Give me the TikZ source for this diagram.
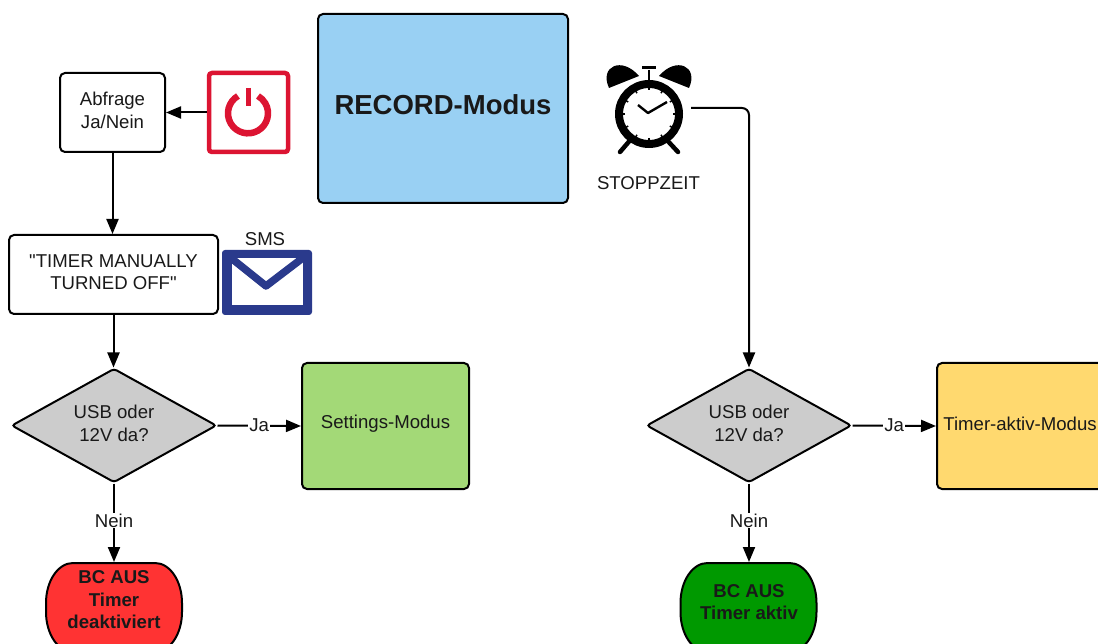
\documentclass[tikz,border=0pt]{standalone}
\usepackage{fontspec}
\setmainfont{Liberation Sans}
\newfontfamily\plainfont{Liberation Sans}
\usetikzlibrary{arrows.meta,shapes.geometric}
\definecolor{recblue}{RGB}{153,208,243}
\definecolor{setgreen}{RGB}{163,217,119}
\definecolor{timyellow}{RGB}{255,217,111}
\definecolor{stopred}{RGB}{255,51,51}
\definecolor{aktgreen}{RGB}{0,153,0}
\definecolor{diagray}{RGB}{204,204,204}
\definecolor{powred}{RGB}{220,20,50}
\definecolor{envblue}{RGB}{42,58,140}
\newcommand\lift[2][2pt]{\raisebox{#1}[\height][\depth]{#2}}
\newcommand\termshape[2]{%
  \draw[draw=black,line width=2pt,fill=#2] (#1-68,603)
    arc[start angle=180,end angle=90,x radius=27pt,y radius=40pt] -- (#1+41,563)
    arc[start angle=90,end angle=0,x radius=27pt,y radius=40pt] -- (#1+68,612)
    arc[start angle=0,end angle=-90,x radius=27pt,y radius=40pt] -- (#1-41,652)
    arc[start angle=270,end angle=180,x radius=27pt,y radius=40pt] -- cycle;}
\tikzset{
  x=1pt,y=-1pt,
  every node/.style={font=\fontsize{18.6}{22.5}\selectfont,align=center,text=black!90,inner sep=0pt},
  boxstyle/.style={draw=black,line width=2pt,rounded corners=5pt,fill=#1},
  boxstyle/.default=white,
  decision/.style={diamond,draw=black,line width=2pt,fill=diagray,aspect=1.8,rounded corners=3pt,minimum width=205pt,minimum height=114pt},
  terminal/.style={minimum width=136pt,minimum height=89pt,outer sep=1pt},
  conn/.style={draw=black,line width=2pt,-{Triangle[length=15pt,width=12pt]}},
  edgelabel/.style={fill=white,inner sep=1pt},
  boldtext/.style={font=\fontsize{18.6}{22.5}\selectfont\bfseries}
}
\begin{document}
\begin{tikzpicture}
\clip (0,0) rectangle (1098,644);
\fill[white] (0,0) rectangle (1098,644);

% boxes
\node[boxstyle=recblue,minimum width=250pt,minimum height=189pt,font=\fontsize{27.5}{30}\selectfont\bfseries] (rec) at (443,108.5) {\lift[4pt]{RECORD-Modus}};
\node[boxstyle,minimum width=105pt,minimum height=79pt] (abf) at (112.5,112.5) {\lift{Abfrage}\\\lift{Ja/Nein}};
\node[boxstyle,minimum width=209pt,minimum height=79pt,font=\fontsize{18.6}{22.5}\plainfont] (tmo) at (113.5,274.5) {\lift[2.5pt]{"TIMER MANUALLY}\\\lift[2.5pt]{TURNED OFF"}};
\node[decision] (d1) at (114,425.5) {\lift{USB oder}\\\lift{12V da?}};
\node[decision] (d2) at (749,425.5) {\lift{USB oder}\\\lift{12V da?}};
\node[boxstyle=setgreen,minimum width=167pt,minimum height=126pt] (set) at (385.5,426) {\lift{Settings-Modus}};
\node[boxstyle=timyellow,minimum width=166pt,minimum height=126pt] (tim) at (1020,426) {\lift{Timer-aktiv-Modus}};
\termshape{114}{stopred}
\termshape{748.5}{aktgreen}
\node[terminal] (t1) at (114,607.5) {};
\node[terminal] (t2) at (749,607.5) {};
\node[boldtext] (t1txt) at (114,600) {BC AUS\\Timer\\deaktiviert};
\node[boldtext] (t2txt) at (749,602) {BC AUS\\Timer aktiv};

% power icon
\node[draw=powred,line width=4.5pt,rounded corners=3pt,minimum size=79pt,fill=white] (pow) at (248.5,112.5) {};
\draw[powred,line width=5.5pt] (248.5,88) -- (248.5,106);
\draw[powred,line width=6.5pt] (238,96) arc[start angle=120,end angle=420,radius=20pt];

% envelope
\node[fill=envblue,rounded corners=3pt,minimum width=90pt,minimum height=65pt] (env) at (267,282.5) {};
\fill[white] (232,258) rectangle (303,305);
\draw[envblue,line width=7.5pt,line join=round] (226,254) -- (266,286) -- (308,254);
\node (sms) at (265,239.5) {SMS};

% clock
\node[minimum size=84pt] (clock) at (649,108) {};
\draw[black,line width=8pt,fill=white] (649,114) circle[radius=30pt];
\fill[black] (609,88) .. controls (599,66) and (622,56) .. (639,76) -- cycle;
\fill[black] (689,88) .. controls (699,66) and (676,56) .. (659,76) -- cycle;
\draw[black,line width=2.5pt] (649,70) -- (649,80);
\draw[black,line width=3pt] (642,68) -- (656,68);
\draw[black,line width=4.5pt,line cap=round] (632,138) -- (620,152);
\draw[black,line width=4.5pt,line cap=round] (665,138) -- (678,152);
\draw[black,line width=2.4pt,line join=round] (638,105) -- (648,113) -- (667,102);
\foreach \a in {0,30,...,330} \draw[black,line width=1.5pt] (649,114) ++(\a:24pt) -- ++(\a:3.5pt);
\node (stop) at (648.5,183.5) {STOPPZEIT};

% connectors
\draw[conn] (pow.west) -- (abf.east);
\draw[conn] (abf.south) -- (abf.south |- tmo.north);
\draw[conn] (tmo.south) -- (tmo.south |- d1.north);
\draw[conn] (d1.east) -- node[edgelabel,pos=0.5,yshift=1pt]{Ja} (set.west);
\draw[conn] (d2.east) -- node[edgelabel,pos=0.5,yshift=1pt]{Ja} (tim.west);
\draw[conn] (d1.south) -- node[edgelabel,pos=0.47]{Nein} (t1.north);
\draw[conn] (d2.south) -- node[edgelabel,pos=0.47]{Nein} (d2.south |- t2.north);
\draw[conn,rounded corners=7pt] (clock.east) -| (d2.north);
\end{tikzpicture}
\end{document}
